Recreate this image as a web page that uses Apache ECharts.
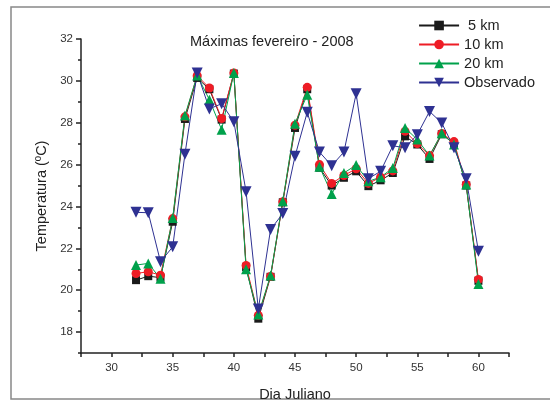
<!DOCTYPE html>
<html>
<head>
<meta charset="utf-8">
<script src="https://cdn.jsdelivr.net/npm/echarts@6/dist/echarts.min.js"></script>
<style>html,body{margin:0;padding:0;background:#fff}#c{width:550px;height:401px}</style>
</head>
<body>
<div id="c"></div>
<script>
var days = [32,33,34,35,36,37,38,39,40,41,42,43,44,45,46,47,48,49,50,51,52,53,54,55,56,57,58,59,60];
var km5  = [20.48,20.67,20.6,23.27,28.18,30.14,29.6,28.15,30.35,21.1,18.64,20.64,24.2,27.75,29.6,25.85,25.0,25.37,25.68,24.97,25.25,25.6,27.35,26.96,26.27,27.45,27.0,25.0,20.45];
var km10 = [20.8,20.88,20.72,23.42,28.28,30.25,29.66,28.2,30.37,21.18,18.8,20.66,24.22,27.88,29.69,26.0,25.1,25.48,25.8,25.1,25.4,25.7,27.59,27.0,26.43,27.48,27.1,25.05,20.51];
var km20 = [21.2,21.28,20.55,23.45,28.34,30.26,29.1,27.67,30.37,21.0,18.84,20.7,24.25,27.95,29.34,25.9,24.6,25.6,25.98,25.2,25.4,25.84,27.75,27.2,26.43,27.5,26.96,25.05,20.3];
var obs  = [23.72,23.7,21.36,22.07,26.5,30.38,28.66,28.91,28.05,24.7,19.1,22.9,23.66,26.4,28.5,26.6,25.95,26.6,29.39,25.33,25.68,26.9,26.8,27.43,28.54,27.99,26.8,25.33,21.86];
var yMajor = [18,20,22,24,26,28,30,32];
var yMinor = [17,19,21,23,25,27,29,31];
var xMajor = [30,35,40,45,50,55,60];
var xMinor = [27.5,32.5,37.5,42.5,47.5,52.5,57.5,62.5];

function pairs(v){ return days.map(function(d,i){ return [d, v[i]]; }); }
var font = 'Liberation Sans, Arial, sans-serif';
var tc = '#333';
function mkSeries(name, data, color, symbol, size){
  return {name:name, type:'line', data:pairs(data), symbol:symbol, symbolSize:size,
    lineStyle:{color:color,width:1}, itemStyle:{color:color}, animation:false, z:2};
}
var chart = echarts.init(document.getElementById('c'));
chart.setOption({
  animation:false,
  title:{text:'Máximas fevereiro - 2008', left:185, top:29,
    textStyle:{fontFamily:font, fontSize:14.5, fontWeight:'normal', color:'#222'}},
  legend:{right:10, top:13, orient:'vertical', itemGap:4, itemWidth:40, itemHeight:12,
    textStyle:{fontFamily:font, fontSize:14.5, lineHeight:14, color:'#222'},
    data:[{name:' 5 km'},{name:'10 km'},{name:'20 km'},{name:'Observado'}]},
  graphic:[{type:'rect', shape:{x:11,y:7,width:560,height:392}, style:{fill:'none', stroke:'#888', lineWidth:1.5}, silent:true}],
  grid:{left:81, top:39, right:41, bottom:48, outerBoundsMode:'none', containLabel:false},
  xAxis:[{type:'value', min:27.5, max:62.5,
    name:'Dia Juliano', nameLocation:'middle', nameGap:34,
    nameTextStyle:{fontFamily:font, fontSize:14.5, color:'#222'},
    axisLine:{show:true, onZero:false, lineStyle:{color:'#222', width:1.5}},
    axisTick:{show:true, customValues:xMajor, length:4, lineStyle:{color:'#222', width:1.5}},
    axisLabel:{show:true, customValues:xMajor, fontFamily:font, fontSize:11.5, color:tc, margin:9},
    splitLine:{show:false}},
   {type:'value', min:27.5, max:62.5, position:'bottom', gridIndex:0,
    axisLine:{show:false},
    axisTick:{show:true, customValues:xMinor, length:4, lineStyle:{color:'#222', width:1.5}},
    axisLabel:{show:false}, splitLine:{show:false}}],
  yAxis:[{type:'value', min:17, max:32,
    name:'Temperatura (ºC)', nameLocation:'middle', nameGap:32, nameRotate:90,
    nameTextStyle:{fontFamily:font, fontSize:14.5, color:'#222'},
    axisLine:{show:true, onZero:false, lineStyle:{color:'#222', width:1.5}},
    axisTick:{show:true, customValues:yMajor, length:5, lineStyle:{color:'#222', width:1.5}},
    axisLabel:{show:true, customValues:yMajor, fontFamily:font, fontSize:11.5, color:tc, margin:8},
    splitLine:{show:false}},
   {type:'value', min:17, max:32, position:'left', gridIndex:0,
    axisLine:{show:false},
    axisTick:{show:true, customValues:yMinor, length:3, lineStyle:{color:'#222', width:1.5}},
    axisLabel:{show:false}, splitLine:{show:false}}],
  series:[
    mkSeries(' 5 km', km5, '#1a1a1a', 'rect', 8),
    mkSeries('10 km', km10, '#ee1c25', 'circle', 9),
    mkSeries('20 km', km20, '#00a14b', 'triangle', 10),
    mkSeries('Observado', obs, '#2e3192', 'path://M0,0 L10,0 L5,9 Z', 11)
  ]
});
</script>
</body>
</html>
